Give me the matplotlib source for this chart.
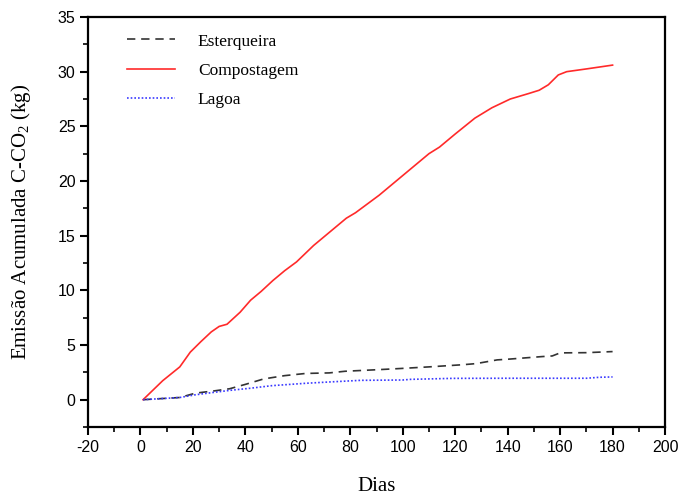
import matplotlib
matplotlib.use("Agg")
import matplotlib.pyplot as plt
from matplotlib.ticker import MultipleLocator

plt.rcParams["mathtext.fontset"] = "custom"
plt.rcParams["mathtext.rm"] = "Liberation Serif"
plt.rcParams["axes.unicode_minus"] = False

# Cumulative C-CO2 emission (kg) per treatment
dias_comp = [1, 8.5, 15, 19, 23, 27, 30, 33, 38, 42, 46, 50.5, 55, 59.5, 66, 72, 78.5,
             82, 91, 100, 110, 114, 120, 127.5, 134, 141, 148, 152, 155.5, 159.3, 162.5,
             170, 180]
compostagem = [0.0, 1.74, 3.0, 4.35, 5.3, 6.2, 6.7, 6.9, 8.0, 9.1, 9.9, 10.9, 11.8, 12.6,
               14.1, 15.3, 16.6, 17.1, 18.7, 20.5, 22.5, 23.1, 24.3, 25.75, 26.7, 27.5,
               28.0, 28.3, 28.8, 29.7, 30.0, 30.25, 30.6]

dias_est = [1, 8, 15, 21, 28, 34, 40, 47, 55, 63, 72, 78, 91, 99, 110, 123, 128, 136,
            140, 153, 157, 160, 170, 180]
esterqueira = [0.0, 0.1, 0.2, 0.6, 0.8, 1.0, 1.4, 1.9, 2.2, 2.4, 2.45, 2.6, 2.75, 2.85,
               3.0, 3.2, 3.3, 3.64, 3.7, 3.94, 4.0, 4.28, 4.3, 4.4]

dias_lag = [1, 8, 15, 21, 28, 34, 42, 50, 63, 72, 84, 100, 103, 119, 140, 170, 175, 180]
lagoa = [0.0, 0.1, 0.2, 0.45, 0.67, 0.85, 1.05, 1.28, 1.5, 1.62, 1.77, 1.8, 1.86, 1.95,
         1.96, 1.96, 2.05, 2.08]

fig = plt.figure(figsize=(6.8, 4.97), dpi=100)
ax = fig.add_axes([0.1294, 0.1408, 0.8486, 0.825])

ax.plot(dias_est, esterqueira, color="#333333", lw=1.2, ls=(0, (5, 3.5)),
        label="Esterqueira")
ax.plot(dias_comp, compostagem, color="#ff2a2a", lw=1.2, label="Compostagem")
ax.plot(dias_lag, lagoa, color="#3a3aff", lw=1.2, ls=(0, (1, 1.2)), label="Lagoa")

ax.set_xlim(-20, 200)
ax.set_ylim(-2.5, 35)
ax.xaxis.set_major_locator(MultipleLocator(20))
ax.xaxis.set_minor_locator(MultipleLocator(10))
ax.yaxis.set_major_locator(MultipleLocator(5))
ax.yaxis.set_minor_locator(MultipleLocator(2.5))
ax.tick_params(which="major", direction="out", length=6, width=1.5,
               labelsize=11.5, pad=3)
ax.tick_params(which="minor", direction="out", length=3.5, width=1.2)
for lbl in ax.get_xticklabels() + ax.get_yticklabels():
    lbl.set_fontfamily("Liberation Sans")
for sp in ax.spines.values():
    sp.set_linewidth(1.6)

ax.set_xlabel("Dias", fontfamily="Liberation Serif", fontsize=15, labelpad=16)
ax.set_ylabel(r"Emissão Acumulada C-CO$_\mathrm{2}$ (kg)", fontfamily="Liberation Serif",
              fontsize=15, labelpad=18)

leg = ax.legend(loc="upper left", bbox_to_anchor=(0.067, 0.96), frameon=False,
                prop={"family": "Liberation Serif", "size": 12.5},
                handlelength=2.8, handletextpad=1.3, labelspacing=0.75,
                borderpad=0, borderaxespad=0)

fig.savefig("out.png", dpi=100)
